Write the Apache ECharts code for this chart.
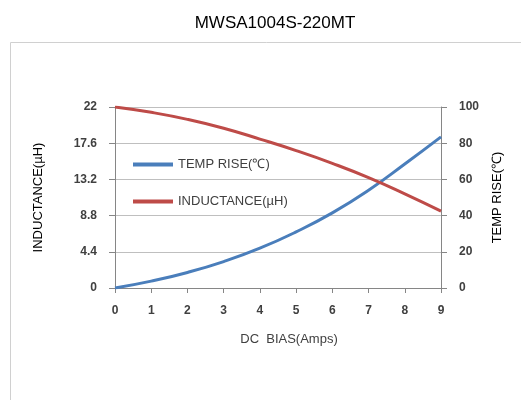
<!DOCTYPE html>
<html>
<head>
<meta charset="utf-8">
<script src="https://cdn.jsdelivr.net/npm/echarts@6/dist/echarts.min.js"></script>
<style>html,body{margin:0;padding:0;background:#fff}#c{width:521px;height:400px}</style>
</head>
<body>
<div id="c"></div>
<script>
const titleText = 'MWSA1004S-220MT';
const dcBias = [0, 1, 2, 3, 4, 5, 6, 7, 8, 9];
const inductance = [22, 21.35, 20.5, 19.42, 18.1, 16.7, 15.15, 13.42, 11.45, 9.35];
const tempRise = [0, 3.8, 8.6, 14.6, 22, 31, 41.5, 54, 68.5, 83.5];
const leftTicks = ['0', '4.4', '8.8', '13.2', '17.6', '22'];
const rightTicks = ['0', '20', '40', '60', '80', '100'];
const xTicks = ['0','1','2','3','4','5','6','7','8','9'];

const labelFont = { color: '#404040', fontWeight: 'bold', fontSize: 12, fontFamily: 'Liberation Sans' };
const nameFont = { color: '#000', fontSize: 13, fontFamily: 'Liberation Sans' };

const chart = echarts.init(document.getElementById('c'));
chart.setOption({
  animation: false,
  title: { text: titleText, left: 270, top: 10, textAlign: 'center',
    textStyle: { fontSize: 17, fontWeight: 'normal', color: '#000', fontFamily: 'Liberation Sans' } },
  graphic: [{ type: 'rect', silent: true, z: -1,
    shape: { x: 10.5, y: 42.5, width: 530, height: 380 },
    style: { fill: 'none', stroke: '#d0d0d0', lineWidth: 1 } }],
  grid: { left: 115, right: 80, top: 107, bottom: 112 },
  legend: {
    orient: 'vertical', left: 128, top: 153, itemGap: 24,
    icon: 'rect', itemWidth: 40, itemHeight: 4,
    textStyle: { fontSize: 13, color: '#404040', fontFamily: 'Liberation Sans' },
    data: ['TEMP RISE(℃)', 'INDUCTANCE(µH)']
  },
  xAxis: {
    type: 'value', min: 0, max: 9, interval: 1,
    name: 'DC  BIAS(Amps)', nameLocation: 'middle', nameGap: 45,
    nameTextStyle: { fontSize: 13, color: '#404040', fontFamily: 'Liberation Sans', padding: [0, 0, 0, 22] },
    axisLine: { lineStyle: { color: '#868686' } },
    axisTick: { show: true, inside: false, length: 5, lineStyle: { color: '#868686' } },
    axisLabel: Object.assign({ margin: 17, formatter: v => xTicks[Math.round(v)] }, labelFont),
    splitLine: { show: false }
  },
  yAxis: [{
    type: 'value', position: 'left', min: 0, max: 22, interval: 4.4,
    name: 'INDUCTANCE(µH)', nameLocation: 'middle', nameRotate: 90, nameGap: 70,
    nameTextStyle: nameFont,
    axisLine: { show: true, lineStyle: { color: '#868686' } },
    axisTick: { show: true, length: 6, lineStyle: { color: '#868686' } },
    axisLabel: Object.assign({ margin: 18, formatter: v => leftTicks[Math.round(v / 4.4)] }, labelFont),
    splitLine: { show: true, lineStyle: { color: '#bfbfbf' } }
  }, {
    type: 'value', position: 'right', min: 0, max: 100, interval: 20,
    name: 'TEMP RISE(℃)', nameLocation: 'middle', nameRotate: 90, nameGap: 50,
    nameTextStyle: nameFont,
    axisLine: { show: true, lineStyle: { color: '#868686' } },
    axisTick: { show: true, length: 6, lineStyle: { color: '#868686' } },
    axisLabel: Object.assign({ margin: 18, formatter: v => rightTicks[Math.round(v / 20)] }, labelFont),
    splitLine: { show: false }
  }],
  series: [{
    name: 'TEMP RISE(℃)', type: 'line', yAxisIndex: 1, smooth: true, symbol: 'none',
    lineStyle: { color: '#4a7ebb', width: 3 }, itemStyle: { color: '#4a7ebb' },
    data: dcBias.map((x, i) => [x, tempRise[i]])
  }, {
    name: 'INDUCTANCE(µH)', type: 'line', yAxisIndex: 0, smooth: true, symbol: 'none',
    lineStyle: { color: '#be4b48', width: 3 }, itemStyle: { color: '#be4b48' },
    data: dcBias.map((x, i) => [x, inductance[i]])
  }]
});
</script>
</body>
</html>
